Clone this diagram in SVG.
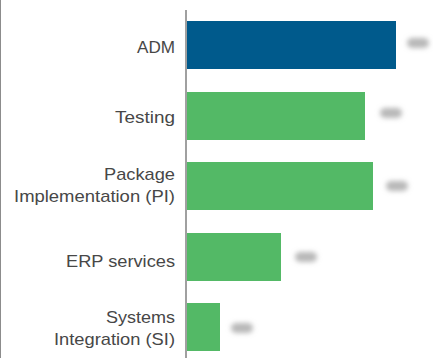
<svg xmlns="http://www.w3.org/2000/svg" width="433" height="358" viewBox="0 0 433 358">
<style>
.lbl{font-family:"Liberation Sans",Arial,sans-serif;font-size:17px;fill:#474747;text-anchor:end}
.bar{fill:#53B966}
.val{fill:#b8b8b8}
</style>
<defs>
<filter id="blur" x="-50%" y="-100%" width="200%" height="300%"><feGaussianBlur stdDeviation="2.6"/></filter>
</defs>
<rect width="433" height="358" fill="#fff"/>
<line x1="0.5" y1="0" x2="0.5" y2="358" stroke="#8c8c8c" stroke-width="1"/>
<g id="axis"><line x1="186" y1="10" x2="186" y2="358" stroke="#a0a0a0" stroke-width="2"/></g>
<g id="adm">
<rect x="187" y="21" width="209" height="48" fill="#005A8C"/>
<text class="lbl" x="175" y="53" textLength="38" lengthAdjust="spacingAndGlyphs">ADM</text>
<rect class="val" x="407" y="38" width="22" height="10" rx="5" filter="url(#blur)"/>
</g>
<g id="testing">
<rect class="bar" x="187" y="92" width="178" height="48"/>
<text class="lbl" x="175" y="123" textLength="60" lengthAdjust="spacingAndGlyphs">Testing</text>
<rect class="val" x="380" y="108" width="22" height="10" rx="5" filter="url(#blur)"/>
</g>
<g id="pi">
<rect class="bar" x="187" y="162" width="186" height="48"/>
<text class="lbl" x="175" y="180" textLength="71" lengthAdjust="spacingAndGlyphs">Package</text>
<text class="lbl" x="175" y="202" textLength="161" lengthAdjust="spacingAndGlyphs">Implementation (PI)</text>
<rect class="val" x="386" y="181" width="22" height="10" rx="5" filter="url(#blur)"/>
</g>
<g id="erp">
<rect class="bar" x="187" y="233" width="94" height="48"/>
<text class="lbl" x="175" y="267" textLength="109" lengthAdjust="spacingAndGlyphs">ERP services</text>
<rect class="val" x="295" y="252" width="22" height="10" rx="5" filter="url(#blur)"/>
</g>
<g id="si">
<rect class="bar" x="187" y="303" width="33" height="48"/>
<text class="lbl" x="175" y="323" textLength="69" lengthAdjust="spacingAndGlyphs">Systems</text>
<text class="lbl" x="175" y="345" textLength="121" lengthAdjust="spacingAndGlyphs">Integration (SI)</text>
<rect class="val" x="231" y="323" width="22" height="10" rx="5" filter="url(#blur)"/>
</g>
<g id="connectors"></g>
</svg>
